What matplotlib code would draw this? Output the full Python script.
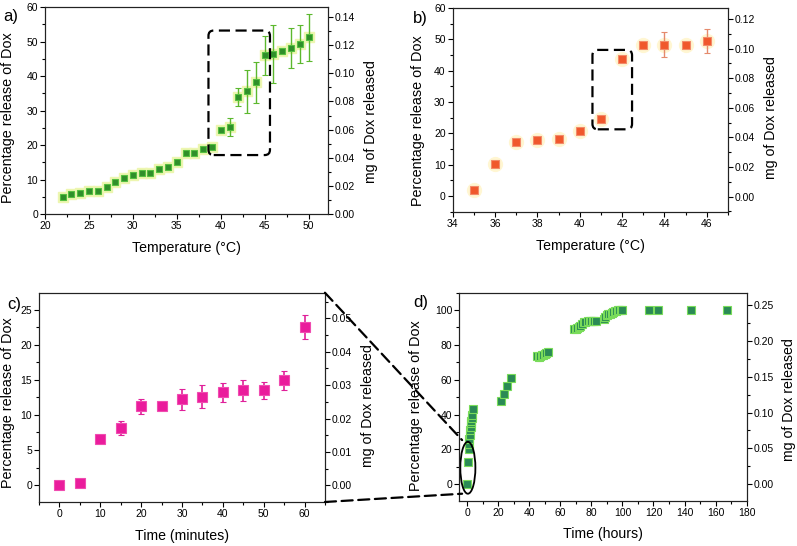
import matplotlib
matplotlib.use('Agg')
import matplotlib.pyplot as plt
from matplotlib.patches import FancyBboxPatch, Ellipse, ConnectionPatch
from matplotlib.ticker import MultipleLocator

plt.rcParams['font.family'] = ['Liberation Sans', 'DejaVu Sans']
plt.rcParams['font.size'] = 7.5

# a) release vs temperature (wide range)
a_temp = [22, 23, 24, 25, 26, 27, 28, 29, 30, 31, 32, 33, 34, 35, 36, 37, 38, 39,
          40, 41, 42, 43, 44, 45, 46, 47, 48, 49, 50]
a_pct = [4.9, 5.8, 6.2, 6.6, 6.6, 7.9, 9.4, 10.4, 11.3, 11.9, 11.9, 13.1, 13.6, 15.1,
         17.6, 17.8, 18.75, 19.4, 24.4, 25.2, 33.8, 35.6, 38.2, 46.0, 46.4, 47.3,
         48.2, 49.2, 51.3]
a_err = [0.3, 0.3, 0.3, 0.3, 0.3, 0.3, 0.5, 0.4, 0.4, 0.3, 0.3, 0.3, 0.3, 0.3,
         0.3, 0.3, 0.3, 0.5, 0.3, 2.5, 2.6, 6.2, 6.0, 5.6, 8.3, 0.7, 5.8, 5.5, 6.8]

# b) release vs temperature (narrow range)
b_temp = [35, 36, 37, 38, 39, 40, 41, 42, 43, 44, 45, 46]
b_pct = [2.0, 10.4, 17.2, 17.8, 18.2, 20.9, 24.5, 43.6, 48.2, 48.2, 48.2, 49.4]
b_err = [0.3, 0.3, 0.3, 0.3, 0.3, 0.3, 0.3, 0.3, 0.5, 4.0, 0.5, 3.8]

# c) release in the first hour
c_time = [0, 5, 10, 15, 20, 25, 30, 35, 40, 45, 50, 55, 60]
c_pct = [0.0, 0.3, 6.6, 8.1, 11.2, 11.3, 12.2, 12.6, 13.2, 13.5, 13.5, 14.9, 22.5]
c_err = [0.2, 0.6, 0.4, 1.0, 1.1, 0.2, 1.5, 1.6, 1.4, 1.5, 1.2, 1.3, 1.7]

# d) release over one week
d_time = [0, 0.5, 1, 1.25, 1.5, 1.75, 2, 2.25, 2.5, 2.75, 3, 3.25, 4,
          22, 24, 26, 28,
          45, 46, 47, 48, 49, 50, 51, 52,
          69, 70, 71, 72, 73, 74, 75, 76, 78, 79, 80, 81, 82, 83,
          88, 89, 90, 91, 92, 93, 94, 95, 96, 97, 98, 99, 100,
          117, 123, 144, 167]
d_pct = [0, 13, 20, 23, 26, 28.5, 31, 33, 35, 36.5, 38, 39.5, 43,
         47.5, 51.5, 56.5, 61,
         73.5, 73, 73.5, 74, 74, 74.5, 75.5, 76,
         89, 89, 89.5, 90, 91, 92, 93, 93, 93.5, 93.5, 94, 94, 94, 94,
         95, 96, 97, 97.5, 98, 98.5, 99, 99.5, 99.5, 100, 100, 100, 100,
         100, 100, 100, 100]
d_err = [0, 1.5, 0.5, 0, 0, 0, 0, 0, 0, 0, 0, 0, 0.5,
         0.5, 0.5, 0.5, 0.5,
         2, 2, 2, 2, 2, 2, 2, 2,
         0.8, 0.8, 0.8, 0.8, 0.8, 0.8, 0.8, 0.8, 0.8, 0.8, 0.8, 0.8, 0.8, 0.8,
         1.5, 1.5, 1.5, 1.5, 1.5, 1.5, 1.5, 1.5, 1.5, 1.5, 1.5, 1.5, 1.5,
         2, 0.5, 0.5, 0.5]

fig = plt.figure(figsize=(7.97, 5.46), dpi=100)
axa = fig.add_axes([0.0565, 0.608, 0.355, 0.379])
axb = fig.add_axes([0.568, 0.612, 0.3454, 0.3736])
axc = fig.add_axes([0.0489, 0.0806, 0.3588, 0.3833])
axd = fig.add_axes([0.5763, 0.083, 0.3606, 0.381])


def style(ax, xmaj, xmin, ymaj, ymin, xlim, ylim, rlim, rmaj, rmin, xlabel, lpos, rpos):
    ax.set_xlim(*xlim)
    ax.set_ylim(*ylim)
    ax.xaxis.set_major_locator(MultipleLocator(xmaj))
    ax.xaxis.set_minor_locator(MultipleLocator(xmin))
    ax.yaxis.set_major_locator(MultipleLocator(ymaj))
    ax.yaxis.set_minor_locator(MultipleLocator(ymin))
    ax.tick_params(which='major', direction='out', length=3.6, width=0.8, pad=1.5)
    ax.tick_params(which='minor', direction='out', length=2, width=0.8)
    ax.set_xlabel(xlabel, fontsize=10.2, labelpad=7)
    ax.set_ylabel('Percentage release of Dox', fontsize=10.4)
    ax.yaxis.set_label_coords(*lpos)
    for s in ax.spines.values():
        s.set_linewidth(0.8)
        s.set_color('#222222')
    r = ax.twinx()
    r.set_ylim(*rlim)
    r.yaxis.set_major_locator(MultipleLocator(rmaj))
    r.yaxis.set_minor_locator(MultipleLocator(rmin))
    r.yaxis.set_major_formatter(plt.FormatStrFormatter('%.2f'))
    r.tick_params(which='major', direction='out', length=3.6, width=0.8, pad=1.5)
    r.tick_params(which='minor', direction='out', length=2, width=0.8)
    r.set_ylabel('mg of Dox released', fontsize=10.2, labelpad=6)
    r.yaxis.label.set_y(rpos)
    for s in r.spines.values():
        s.set_linewidth(0.8)
        s.set_color('#222222')
    return r


style(axa, 5, 2.5, 10, 5, (20, 52.2), (0, 60), (0, 0.1471), 0.02, 0.01,
      'Temperature (°C)', (-0.106, 0.464), 0.449)
style(axb, 2, 1, 10, 5, (34, 47), (-5, 60), (-0.0103, 0.1276), 0.02, 0.01,
      'Temperature (°C)', (-0.099, 0.446), 0.46)
style(axc, 10, 5, 5, 2.5, (-5, 65), (-2.4, 27.4), (-0.005, 0.0577), 0.01, 0.005,
      'Time (minutes)', (-0.084, 0.476), 0.463)
style(axd, 20, 10, 20, 10, (-5, 180), (-9.5, 110), (-0.0228, 0.267), 0.05, 0.025,
      'Time (hours)', (-0.127, 0.455), 0.487)

# a)
axa.plot(a_temp, a_pct, 's', ms=7, color='#edf6b0', zorder=2)
axa.errorbar(a_temp, a_pct, yerr=a_err, fmt='s', ms=5, mfc='#2f8f2a', mec='#55c040',
             mew=0.8, ecolor='#5cb82e', elinewidth=1, capsize=2, zorder=3)
axa.add_patch(FancyBboxPatch((38.6, 17.1), 7.0, 36.1, boxstyle='round,pad=0,rounding_size=0.6',
                             mutation_aspect=2.55, fill=False, lw=1.6, ls=(0, (5, 2.5)),
                             ec='black', zorder=4))

# b)
axb.plot(b_temp, b_pct, 'o', ms=10, color='#fff6d2', zorder=2)
axb.errorbar(b_temp, b_pct, yerr=b_err, fmt='s', ms=5.5, mfc='#f0582c', mec='#f28a6a',
             mew=0.8, ecolor='#e58a6c', elinewidth=1, capsize=2, zorder=3)
axb.add_patch(FancyBboxPatch((40.6, 21.3), 1.87, 25.3, boxstyle='round,pad=0,rounding_size=0.25',
                             mutation_aspect=6.83, fill=False, lw=1.6, ls=(0, (5, 2.5)),
                             ec='black', zorder=4))

# c)
axc.errorbar(c_time, c_pct, yerr=c_err, fmt='s', ms=6.5, mfc='#ea1c9c', mec='#f04cb0',
             mew=0.8, ecolor='#e0209a', elinewidth=1.2, capsize=2.5, capthick=1.2, zorder=3)

# d)
axd.errorbar(d_time, d_pct, yerr=d_err, fmt='s', ms=5.5, mfc='#2a8a55', mec='#7adc5a',
             mew=0.8, ecolor='#7adc5a', elinewidth=1, capsize=1.5, zorder=3)
axd.add_patch(Ellipse((0.5, 9.4), 9.7, 29.8, fill=False, ec='black', lw=1.3, zorder=4))

# panel letters
fig.text(0.004, 0.969, 'a)', fontsize=12, va='center')
fig.text(0.518, 0.966, 'b)', fontsize=12, va='center')
fig.text(0.009, 0.443, 'c)', fontsize=12, va='center')
fig.text(0.518, 0.446, 'd)', fontsize=12, va='center')

# zoom connectors from c) to the circled part of d)
for ya, yb in [(1, 25.3), (0, -5.5)]:
    con = ConnectionPatch(xyA=(1, ya), coordsA=axc.transAxes, xyB=(-3.2, yb),
                          coordsB=axd.transData, color='black', lw=1.6,
                          ls=(0, (5, 2.5)), zorder=5)
    fig.add_artist(con)

fig.savefig('out.png', dpi=100)
